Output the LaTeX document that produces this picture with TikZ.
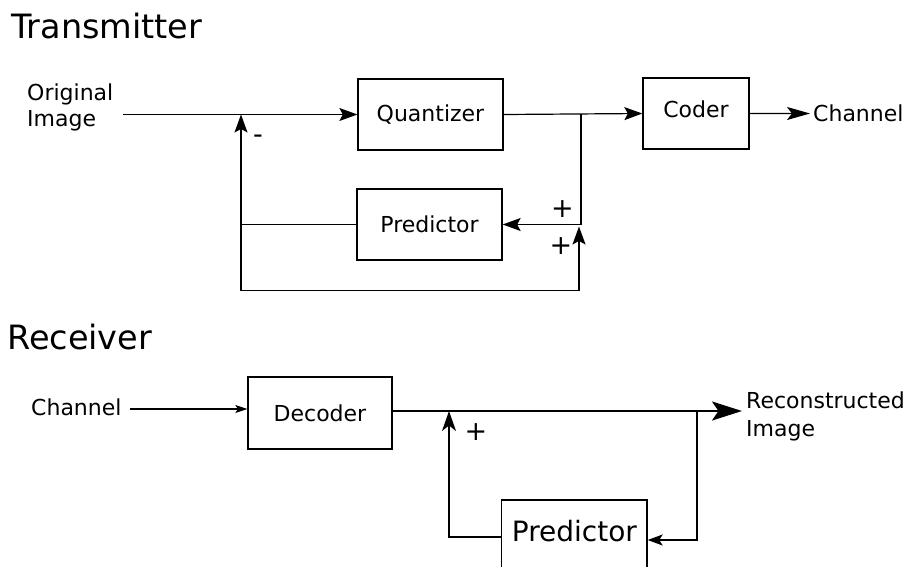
\documentclass[tikz,border=0pt]{standalone}
\usepackage{fontspec}
\setmainfont{DejaVu Sans}
\usetikzlibrary{arrows.meta}

\begin{document}
\begin{tikzpicture}[x=1pt,y=-1pt,
  title/.style={font=\fontsize{33.5}{40}\selectfont, inner sep=0pt},
  txt/.style={font=\fontsize{22}{26}\selectfont, inner sep=0pt},
  sign/.style={font=\fontsize{27}{30}\selectfont, inner sep=0pt},
  box/.style={draw, line width=1.3pt, inner sep=0pt, font=\fontsize{22}{26}\selectfont},
  wire/.style={line width=1.2pt},
  arrT/.style={-{Stealth[length=18pt,width=13pt,inset=3.5pt]}},
  arrL/.style={-{Stealth[length=23pt,width=13pt,inset=5pt]}},
  arrS/.style={-{Stealth[length=12pt,width=8pt,inset=2.5pt]}},
  arrM/.style={-{Stealth[length=15pt,width=11pt,inset=3.5pt]}},
  arrU/.style={-{Stealth[length=20pt,width=14pt,inset=5.5pt]}},
  arrB/.style={-{Stealth[length=30pt,width=19pt,inset=6.5pt]}},
]
\useasboundingbox[fill=white] (0,0) rectangle (908,566);

% ---------------- Transmitter ----------------
\node[title, anchor=base west] (ttx) at (11,38) {Transmitter};
% two-line label: base anchor sits on the last line
\node[txt, anchor=base west, align=left, font=\fontsize{22}{25.8}\selectfont] (orig) at (27,126.5) {Original\\Image};

\node[box, minimum width=145pt, minimum height=71pt] (quant) at (430.5,114.5) {Quantizer};
\node[box, minimum width=145pt, minimum height=71pt] (pred) at (429.5,224.5) {Predictor};
\node[box, minimum width=106pt, minimum height=71pt, text depth=9pt] (coder) at (696,113.5) {Coder};
\node[txt, anchor=base west, inner xsep=3pt, inner ysep=0pt] (chout) at (810,121.7) {Channel};

\coordinate (in1) at (123,114.5);
\coordinate (j1) at (241,114.5);
\coordinate (j2) at (581,114);
\coordinate (j3) at (241,290.5);
\coordinate (j4) at (579,226.5);

\draw[wire, arrT] (in1) -- (quant.west);
\draw[wire, arrT] (quant.east) -- (coder.west);
\draw[wire, arrL] (coder.east) -- (chout.west);
\draw[wire, arrT] (j2) |- (pred.east);
\draw[wire] (pred.west) -- (pred.west -| j1);
\draw[wire, arrT] (j3) -- (j1);
\draw[wire, arrT] (j3) -| (j4);

\node[sign] (minus) at (258,139) {-};
\node[sign] (plus1) at (562.5,209) {+};
\node[sign] (plus2) at (561,246.5) {+};

% ---------------- Receiver ----------------
\node[title, anchor=base west] (trx) at (7,349) {Receiver};
\node[txt, anchor=base west] (chin) at (31,415) {Channel};
\node[box, minimum width=144pt, minimum height=72pt] (dec) at (320,413) {Decoder};
\node[draw, line width=1.3pt, inner sep=0pt, font=\fontsize{28}{32}\selectfont,
      minimum width=145.3pt, minimum height=80pt, text depth=17.5pt] (pred2) at (574.4,540) {Predictor};
\node[txt, anchor=base west, align=left, font=\fontsize{22}{27.7}\selectfont] (recon) at (746,436) {Reconstructed\\Image};

\coordinate (c1) at (130,409);
\coordinate (out) at (742,411);
\coordinate (j5) at (697,411);
\coordinate (j6) at (449,411);
\coordinate (l1) at (449,537);

\draw[wire, arrS] (c1) -- (c1 -| dec.west);
\draw[line width=2.2pt, arrB] (dec.east |- out) -- (out);
\draw[wire, arrM] (j5) |- (pred2.east);
\draw[wire, arrU] (l1 -| pred2.west) -- (l1) -- (j6);

\node[sign] (plus3) at (476,432.5) {+};
\end{tikzpicture}
\end{document}
